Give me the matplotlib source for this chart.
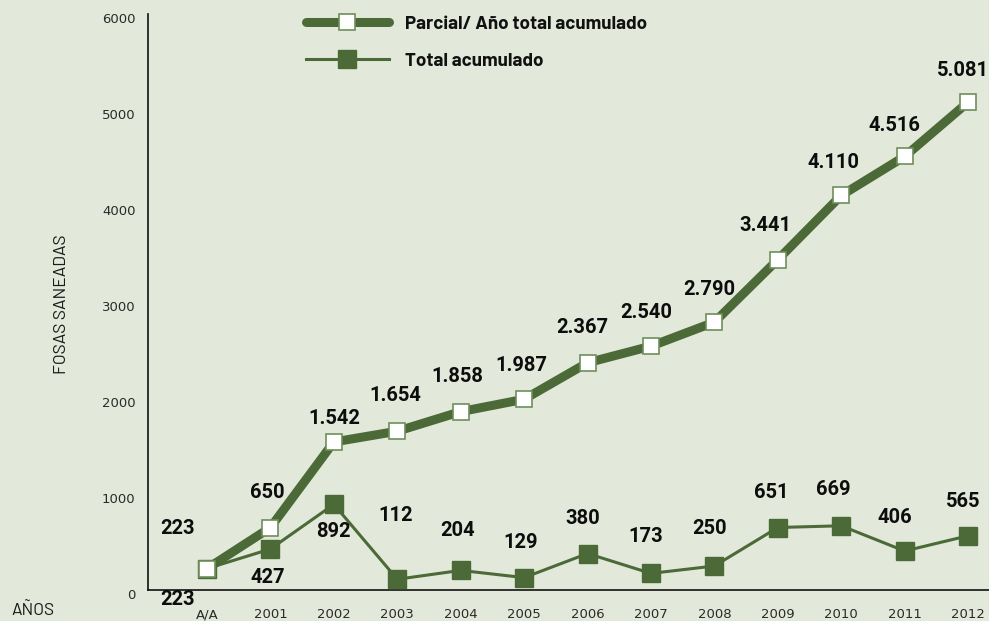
import matplotlib
matplotlib.use("Agg")
import matplotlib.pyplot as plt
from matplotlib.lines import Line2D
import matplotlib.transforms as mtransforms

# ---- data ----
categories = ["A/A", "2001", "2002", "2003", "2004", "2005", "2006",
              "2007", "2008", "2009", "2010", "2011", "2012"]
acumulado = [223, 650, 1542, 1654, 1858, 1987, 2367, 2540, 2790, 3441, 4110, 4516, 5081]
anual = [223, 427, 892, 112, 204, 129, 380, 173, 250, 651, 669, 406, 565]
acum_labels = ["223", "650", "1.542", "1.654", "1.858", "1.987", "2.367",
               "2.540", "2.790", "3.441", "4.110", "4.516", "5.081"]
anual_labels = ["223", "427", "892", "112", "204", "129", "380",
                "173", "250", "651", "669", "406", "565"]
yticks = [0, 1000, 2000, 3000, 4000, 5000, 6000]
series_names = ["Parcial/ Año total acumulado", "Total acumulado"]

# ---- layout (label offsets in pixels) ----
acum_off = [(-29, 40), (-3, 35), (0, 23), (-2, 36), (-3, 35), (-3, 34), (-5, 35),
            (-5, 34), (-5, 33), (-12, 34), (-8, 33), (-10, 31), (-5, 32)]
anual_off = [(-29, -31), (-3, -28), (0, -27), (-2, 64), (-3, 40), (-3, 35), (-5, 35),
             (-5, 37), (-5, 38), (-7, 35), (-8, 36), (-10, 34), (-5, 34)]

BG = "#e3e9da"
GREEN = "#4b6a38"
EDGE = "#6f8f5c"
NUM_FONT = ["Roboto", "DejaVu Sans"]
LEG_FONT = ["Barlow", "DejaVu Sans"]
AXIS_FONT = ["Barlow", "DejaVu Sans"]

fig = plt.figure(figsize=(9.89, 6.21), dpi=100, facecolor=BG)
ax = fig.add_axes([148/989, 1 - 590/621, 1 - 148/989, (590 - 14)/621])
ax.set_facecolor(BG)

x = list(range(len(categories)))

ax.plot(x, anual, color=GREEN, lw=2.2, marker="s", ms=12.5,
        mfc=GREEN, mec=GREEN, zorder=3, solid_capstyle="round")
ax.plot(x, acumulado, color=GREEN, lw=6.5, marker="s", ms=12,
        mfc="white", mec=EDGE, mew=1.2, zorder=4, solid_capstyle="round")

for i in x:
    ax.annotate(acum_labels[i], (x[i], acumulado[i]), xytext=acum_off[i],
                textcoords="offset pixels", ha="center", va="center",
                fontsize=14.5, fontweight="bold", family=NUM_FONT, color="#0d0d0d",
                zorder=5)
    ax.annotate(anual_labels[i], (x[i], anual[i]), xytext=anual_off[i],
                textcoords="offset pixels", ha="center", va="center",
                fontsize=14.5, fontweight="bold", family=NUM_FONT, color="#0d0d0d",
                zorder=5, annotation_clip=False)

ax.set_xlim(-0.93, 12.33)
ax.set_ylim(0, 6000)
ax.set_xticks(x)
ax.set_xticklabels(categories)
ax.set_yticks(yticks)
ax.set_yticklabels([str(v) for v in yticks])
ax.tick_params(axis="both", length=0, labelsize=9.5, colors="#2a2a2a")
ax.tick_params(axis="x", pad=13)
ax.tick_params(axis="y", pad=9)
off = mtransforms.ScaledTranslation(0, -4/100, fig.dpi_scale_trans)
for lab in ax.get_yticklabels():
    lab.set_transform(lab.get_transform() + off)

for s in ["top", "right"]:
    ax.spines[s].set_visible(False)
for s in ["left", "bottom"]:
    ax.spines[s].set_color("#111111")
    ax.spines[s].set_linewidth(1.2)

fig.text(62/989, 1 - 304/621, "FOSAS SANEADAS", rotation=90, ha="center", va="center",
         fontsize=12.5, family=AXIS_FONT, color="#1a1a1a")
fig.text(11/989, 1 - 610/621, "AÑOS", ha="left", va="center",
         fontsize=12.5, family=AXIS_FONT, color="#1a1a1a")

handles = [
    Line2D([], [], color=GREEN, lw=6.5, marker="s", ms=12, mfc="white", mec=EDGE,
           mew=1.2, solid_capstyle="round"),
    Line2D([], [], color=GREEN, lw=2.2, marker="s", ms=12.5, mfc=GREEN, mec=GREEN),
]
leg = fig.legend(handles, series_names, loc="upper left",
                 bbox_to_anchor=(300/989, 1 - 10/621), frameon=False,
                 prop={"family": LEG_FONT, "weight": "bold", "size": 13.5},
                 handlelength=4.45, handletextpad=0.85, labelspacing=1.05,
                 borderaxespad=0, borderpad=0.3)
for t in leg.get_texts():
    t.set_color("#111111")

fig.savefig("out.png", dpi=100, facecolor=BG)
